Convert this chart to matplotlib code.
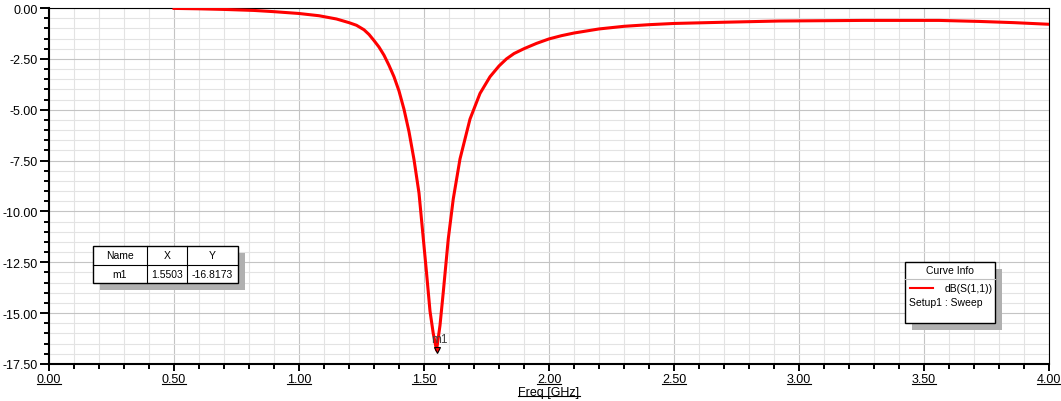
import matplotlib
matplotlib.use("Agg")
import matplotlib.pyplot as plt
from matplotlib.patches import Rectangle
from matplotlib.lines import Line2D
from matplotlib.transforms import IdentityTransform

plt.rcParams['font.family'] = ['Liberation Sans', 'DejaVu Sans']

# S11 curve
freq_ghz = [0.50, 0.60, 0.70, 0.82, 0.90, 1.00, 1.08, 1.15, 1.20, 1.23, 1.26,
            1.28, 1.30, 1.32, 1.34, 1.36, 1.38, 1.40, 1.42, 1.44, 1.46, 1.48,
            1.50, 1.51, 1.524, 1.537, 1.5503, 1.564, 1.577, 1.597, 1.617,
            1.644, 1.684, 1.724, 1.764, 1.80, 1.83, 1.86, 1.90, 1.95, 2.00,
            2.05, 2.10, 2.20, 2.30, 2.40, 2.50, 2.70, 2.92, 3.26, 3.56, 3.72,
            3.86, 4.00]
s11_db = [-0.02, -0.04, -0.07, -0.12, -0.18, -0.27, -0.38, -0.54, -0.72, -0.85,
          -1.07, -1.30, -1.60, -1.92, -2.32, -2.82, -3.38, -4.08, -4.98, -6.08,
          -7.45, -9.10, -11.70, -13.00, -14.90, -16.00, -16.82, -15.60, -13.98,
          -11.36, -9.39, -7.42, -5.46, -4.20, -3.38, -2.85, -2.50, -2.24, -2.00,
          -1.74, -1.52, -1.36, -1.23, -1.03, -0.90, -0.82, -0.76, -0.70, -0.64,
          -0.61, -0.61, -0.66, -0.72, -0.80]

marker_name = "m1"
marker_x = 1.5503
marker_y = -16.8173

x_ticks = [0.0, 0.5, 1.0, 1.5, 2.0, 2.5, 3.0, 3.5, 4.0]
y_ticks = [0.0, -2.5, -5.0, -7.5, -10.0, -12.5, -15.0, -17.5]

fig = plt.figure(figsize=(10.61, 4.02), dpi=100)
ax = fig.add_axes([49 / 1061, 37 / 402, 1000 / 1061, 356 / 402])

ax.plot(freq_ghz, s11_db, color='#ff0000', lw=2.2, zorder=3)

ax.set_xlim(0, 4)
ax.set_ylim(-17.5, 0)
ax.set_xticks(x_ticks)
ax.set_yticks(y_ticks)
ax.set_xticklabels([f"{v:.2f}" for v in x_ticks])
ax.set_yticklabels([f"{v:.2f}" for v in y_ticks])
ax.set_xticks([i * 0.1 for i in range(41)], minor=True)
ax.set_yticks([-i * 0.5 for i in range(36)], minor=True)

ax.grid(which='minor', color='#e3e3e3', lw=0.8)
ax.grid(which='major', color='#c4c4c4', lw=0.8)
ax.set_axisbelow(True)

ax.tick_params(axis='y', which='major', direction='out', length=6.5, width=1.4,
               labelsize=9, pad=1.5)
ax.tick_params(axis='y', which='minor', direction='out', length=3.6, width=1.4)
ax.tick_params(axis='x', which='major', direction='out', length=5, width=1.4,
               labelsize=9, pad=1.5)
ax.tick_params(axis='x', which='minor', direction='out', length=3.6, width=1.4)
for side in ['left', 'bottom']:
    ax.spines[side].set_linewidth(1.5)
for side in ['top', 'right']:
    ax.spines[side].set_linewidth(0.8)

ax.set_xlabel("Freq [GHz]", fontsize=9, labelpad=0.5)

# marker
ax.plot([marker_x], [marker_y], marker='v', ms=5, mfc='#ff0000', mec='black', mew=0.8, zorder=5)
ax.annotate(marker_name, (marker_x, marker_y), xytext=(-4, 6), textcoords='offset points',
            fontsize=8.5, color='#404040', zorder=6)

# marker table
tx0, tx1 = 0.044, 0.189
ty0, ty1 = 0.2275, 0.331
tr = ax.transAxes
sx, sy = 0.007, -0.02
ax.add_patch(Rectangle((tx0 + sx, ty0 + sy), tx1 - tx0, ty1 - ty0, transform=tr,
                       facecolor='#b0b0b0', edgecolor='none', zorder=7, clip_on=False))
ax.add_patch(Rectangle((tx0, ty0), tx1 - tx0, ty1 - ty0, transform=tr,
                       facecolor='white', edgecolor='black', lw=1, zorder=8, clip_on=False))
col_edges = [tx0, 0.098, 0.138, tx1]
ymid = (ty0 + ty1) / 2
ax.plot([tx0, tx1], [ymid, ymid], transform=tr, color='black', lw=0.8, zorder=9)
for cx in col_edges[1:-1]:
    ax.plot([cx, cx], [ty0, ty1], transform=tr, color='black', lw=0.8, zorder=9)
header = ["Name", "X", "Y"]
row = [marker_name, f"{marker_x:.4f}", f"{marker_y:.4f}"]
for i in range(3):
    cx = (col_edges[i] + col_edges[i + 1]) / 2
    ax.text(cx, (ymid + ty1) / 2, header[i], transform=tr, ha='center', va='center',
            fontsize=7.5, zorder=10)
    ax.text(cx, (ymid + ty0) / 2, row[i], transform=tr, ha='center', va='center',
            fontsize=7.5, zorder=10)

# curve info legend
lx0, lx1 = 0.856, 0.946
ly0, ly1 = 0.115, 0.2865
ax.add_patch(Rectangle((lx0 + sx, ly0 + sy), lx1 - lx0, ly1 - ly0, transform=tr,
                       facecolor='#b0b0b0', edgecolor='none', zorder=7, clip_on=False))
ax.add_patch(Rectangle((lx0, ly0), lx1 - lx0, ly1 - ly0, transform=tr,
                       facecolor='white', edgecolor='black', lw=1, zorder=8, clip_on=False))
ax.text((lx0 + lx1) / 2, 0.264, "Curve Info", transform=tr, ha='center', va='center',
        fontsize=7.5, zorder=10)
ax.plot([lx0, lx1], [0.239, 0.239], transform=tr, color='#c0c0c0', lw=0.8, zorder=9)
ax.plot([0.861, 0.884], [0.213, 0.213], transform=tr, color='#ff0000', lw=1.5, zorder=10)
ax.text(0.944, 0.213, "dB(S(1,1))", transform=tr, ha='right', va='center',
        fontsize=7.5, zorder=10)
ax.text(0.860, 0.175, "Setup1 : Sweep", transform=tr, ha='left', va='center',
        fontsize=7.5, zorder=10)

# underline x tick labels and axis label
fig.canvas.draw()
for lbl in ax.get_xticklabels() + [ax.xaxis.label]:
    bb = lbl.get_window_extent()
    fig.add_artist(Line2D([bb.x0, bb.x1], [bb.y0 + 1.5, bb.y0 + 1.5], transform=IdentityTransform(),
                          color='black', lw=0.8))

fig.savefig("out.png", dpi=100)
